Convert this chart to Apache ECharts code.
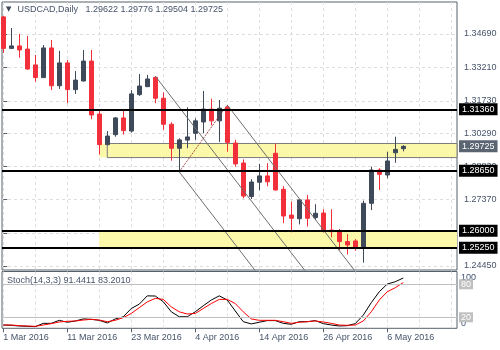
<!DOCTYPE html>
<html>
<head>
<meta charset="utf-8">
<script src="https://cdn.jsdelivr.net/npm/echarts@6/dist/echarts.min.js"></script>
<style>
html,body{margin:0;padding:0;background:#fff}
#chart{width:500px;height:350px}
</style>
</head>
<body>
<div id="chart"></div>
<script>
// USDCAD daily candles, 1 Mar – 10 May 2016
const symbolName = 'USDCAD,Daily';
const dates = [
  '1 Mar 2016','2 Mar 2016','3 Mar 2016','4 Mar 2016','7 Mar 2016','8 Mar 2016','9 Mar 2016','10 Mar 2016',
  '11 Mar 2016','14 Mar 2016','15 Mar 2016','16 Mar 2016','17 Mar 2016','18 Mar 2016','21 Mar 2016','22 Mar 2016',
  '23 Mar 2016','24 Mar 2016','25 Mar 2016','28 Mar 2016','29 Mar 2016','30 Mar 2016','31 Mar 2016','1 Apr 2016',
  '4 Apr 2016','5 Apr 2016','6 Apr 2016','7 Apr 2016','8 Apr 2016','11 Apr 2016','12 Apr 2016','13 Apr 2016',
  '14 Apr 2016','15 Apr 2016','18 Apr 2016','19 Apr 2016','20 Apr 2016','21 Apr 2016','22 Apr 2016','25 Apr 2016',
  '26 Apr 2016','27 Apr 2016','28 Apr 2016','29 Apr 2016','2 May 2016','3 May 2016','4 May 2016','5 May 2016',
  '6 May 2016','9 May 2016','10 May 2016'
];
const opens = [
  1.3544,1.3405,1.3416,1.3402,1.3332,1.3276,1.3407,1.3240,1.3341,1.3223,1.3261,1.3349,1.3115,1.2980,1.3024,1.3098,
  1.3040,1.3201,1.3236,1.3277,1.3185,1.3070,1.2964,1.3000,1.3030,1.3080,1.3137,1.3085,1.3145,1.2987,1.2899,1.2751,
  1.2814,1.2842,1.2942,1.2783,1.2669,1.2653,1.2736,1.2658,1.2678,1.2603,1.2597,1.2552,1.2555,1.2522,1.2721,1.2868,
  1.2846,1.2944,1.29622
];
const closes = [
  1.3405,1.3416,1.3398,1.3314,1.3276,1.3407,1.3240,1.3341,1.3223,1.3265,1.3349,1.3111,1.2980,1.3018,1.3098,1.3042,
  1.3204,1.3239,1.3270,1.3185,1.3070,1.2964,1.3001,1.3014,1.3085,1.3137,1.3085,1.3141,1.2990,1.2895,1.2753,1.2815,
  1.2842,1.2816,1.2780,1.2665,1.2655,1.2736,1.2655,1.2677,1.2600,1.2596,1.2552,1.2537,1.2522,1.2721,1.2868,1.2849,
  1.2908,1.2959,1.29725
];
const lows = [
  1.3385,1.3402,1.3364,1.3310,1.3258,1.3274,1.3221,1.3226,1.3163,1.3204,1.3259,1.3092,1.2936,1.2978,1.3015,1.3024,
  1.3033,1.3195,1.3235,1.3163,1.3045,1.2909,1.2860,1.2964,1.3001,1.3030,1.3065,1.2992,1.2949,1.2883,1.2743,1.2740,
  1.2778,1.2796,1.2777,1.2633,1.2593,1.2628,1.2618,1.2647,1.2592,1.2571,1.2514,1.2495,1.2512,1.2459,1.2691,1.2780,
  1.2831,1.2900,1.29504
];
const highs = [
  1.3548,1.3495,1.3469,1.3460,1.3376,1.3420,1.3442,1.3394,1.3354,1.3305,1.3398,1.3398,1.3133,1.3040,1.3102,1.3137,
  1.3221,1.3292,1.3288,1.3283,1.3211,1.3079,1.3008,1.3145,1.3096,1.3217,1.3183,1.3177,1.3155,1.3001,1.2915,1.2828,
  1.2895,1.2898,1.2985,1.2797,1.2728,1.2740,1.2758,1.2717,1.2695,1.2695,1.2608,1.2585,1.2563,1.2733,1.2883,1.2876,
  1.2949,1.3015,1.29776
];

// Stochastic (14,3,3): main %K and signal %D
const stochK = [
  6.0,5.4,4.2,3.6,3.0,9.0,9.0,14.5,11.0,13.3,17.0,16.3,14.5,9.7,17.0,21.0,36.0,44.0,59.0,58.7,48.4,30.0,21.0,21.0,
  30.0,41.0,51.4,59.0,51.4,31.5,12.0,8.0,11.0,14.0,14.0,9.0,7.3,12.0,12.0,14.0,8.5,6.0,4.2,4.8,8.5,24.0,46.6,66.5,
  80.5,84.7,91.4411
];
const stochD = [
  6.0,6.0,4.8,4.2,3.6,6.0,8.5,11.5,12.7,13.3,15.0,16.3,15.0,12.0,14.5,19.4,27.0,37.5,48.0,54.4,52.6,39.0,30.0,26.0,
  27.0,36.0,45.0,52.6,52.6,45.0,30.0,17.0,14.5,14.5,14.5,12.0,9.0,11.0,12.0,13.3,11.5,9.0,6.0,5.4,6.0,13.3,30.0,51.4,
  66.5,73.8,83.2010
];
const stochLevels = [80, 20];
const stochTop = [100];
const stochBottom = [0];

// price scale labels and date labels
const priceTicks = [1.2445, 1.2591, 1.2737, 1.2883, 1.3029, 1.3173, 1.3321, 1.3469];
const dateTicks = [0, 8, 16, 24, 32, 40, 48];
const gridSteps = [0, 4, 8, 12, 16, 20, 24, 28, 32, 36, 40, 44, 48, 52, 56];

// support / resistance levels and zones
const levels = [1.3136, 1.2865, 1.2600, 1.2525];
const zoneUpper = [1.2985, 1.2923];
const zoneLower = [1.2600, 1.2525];
const zoneStart = 12;
const boxStart = 13;
const zoneNote = [32.2, 1.3027];

// descending channel and the rising link (bar index, price)
const channelA = [[19, 1.3283], [44, 1.2135]];
const channelB = [[22, 1.2860], [42, 1.1942]];
const channelC = [[28, 1.3155], [48, 1.2237]];
const riseLink = [[22, 1.2860], [28, 1.3155]];

const FONT = '"Liberation Sans", Arial, sans-serif';
const TXT = '#46546a';
const FRAME = '#56606b';
const GRIDLINE = '#dedede';
const BULL = '#3e4a59';
const BEAR = '#f2303b';
const ZONE = '#fbf9a9';

const X_MIN = -0.16, X_MAX = 56.715;
const Y_MIN = 1.24266, Y_MAX = 1.36098;
const S_MAX = 103.3;
const last = closes.length - 1;

const candles = dates.map((d, i) => [i, opens[i], closes[i], lows[i], highs[i]]);

const tag = (bg) => ({
  show: true, position: 'end', distance: 2,
  backgroundColor: bg, color: '#fff', padding: [2, 3, 1, 3],
  fontSize: 9, fontFamily: FONT
});

const trend = (pts, color, type) => ({
  type: 'line', xAxisIndex: 0, yAxisIndex: 0, data: pts,
  symbol: 'none', silent: true, clip: true, z: 3,
  lineStyle: { color: color, width: 1, type: type }
});

const stochAxis = (values, vAlign) => ({
  gridIndex: 1, type: 'value', position: 'right', min: 0, max: S_MAX,
  axisLine: { show: false },
  axisTick: { show: false, customValues: values },
  axisLabel: {
    customValues: values, margin: 4, verticalAlign: vAlign,
    color: '#3d4f73', fontSize: 9, fontFamily: FONT
  },
  splitLine: { show: false }
});

const chart = echarts.init(document.getElementById('chart'), null, { renderer: 'canvas' });
chart.setOption({
  animation: false,
  backgroundColor: '#fff',
  title: [
    {
      text: '{tri|▼}' + symbolName + '   ' +
        [opens[last], highs[last], lows[last], closes[last]].map(v => v.toFixed(5)).join(' '),
      left: 6, top: 5, padding: 0,
      textStyle: {
        fontSize: 9, fontWeight: 'normal', color: TXT, fontFamily: FONT,
        rich: { tri: { fontSize: 7, color: '#3b4656', padding: [0, 6, 0, 0], fontFamily: 'DejaVu Sans' } }
      }
    },
    {
      text: 'Stoch(14,3,3) ' + stochK[last].toFixed(4) + ' ' + stochD[last].toFixed(4),
      left: 7, top: 276, padding: 0,
      textStyle: { fontSize: 9, fontWeight: 'normal', color: TXT, fontFamily: FONT }
    }
  ],
  grid: [
    { left: 2, top: 2, width: 455, height: 268, show: true, borderColor: FRAME, borderWidth: 1 },
    { left: 2, top: 271.5, width: 455, height: 56.8, show: true, borderColor: FRAME, borderWidth: 1 }
  ],
  xAxis: [
    {
      gridIndex: 0, type: 'value', min: X_MIN, max: X_MAX,
      axisLine: { show: false }, axisLabel: { show: false },
      axisTick: { show: false, customValues: gridSteps },
      splitLine: { show: true, lineStyle: { color: GRIDLINE, type: [3, 3] } }
    },
    {
      gridIndex: 1, type: 'value', min: X_MIN, max: X_MAX,
      axisLine: { show: false }, axisLabel: { show: false },
      axisTick: { show: false, customValues: gridSteps },
      splitLine: { show: true, lineStyle: { color: GRIDLINE, type: [3, 3] } }
    },
    {
      gridIndex: 1, type: 'value', min: X_MIN, max: X_MAX, position: 'bottom',
      axisLine: { show: false },
      axisTick: { show: true, length: 4, customValues: dateTicks, lineStyle: { color: FRAME } },
      axisLabel: {
        customValues: dateTicks, formatter: v => dates[Math.round(v)],
        align: 'left', margin: 5, color: TXT, fontSize: 9, fontFamily: FONT
      },
      splitLine: { show: false }
    }
  ],
  yAxis: [
    {
      gridIndex: 0, type: 'value', position: 'right', min: Y_MIN, max: Y_MAX,
      axisLine: { show: false },
      axisTick: { show: true, length: 4, customValues: priceTicks, lineStyle: { color: FRAME } },
      axisLabel: {
        customValues: priceTicks, formatter: v => v.toFixed(5),
        margin: 7, color: TXT, fontSize: 9, fontFamily: FONT
      },
      splitLine: { show: true, lineStyle: { color: GRIDLINE, type: [3, 3] } }
    },
    stochAxis(stochTop, 'top'),
    stochAxis(stochBottom, 'bottom')
  ],
  series: [
    {
      type: 'candlestick', name: symbolName, xAxisIndex: 0, yAxisIndex: 0,
      dimensions: ['bar', 'open', 'close', 'low', 'high'],
      encode: { x: 'bar', y: ['open', 'close', 'low', 'high'] },
      data: candles, barWidth: 4, clip: true,
      itemStyle: { color: BULL, color0: BEAR, borderColor: BULL, borderColor0: BEAR, borderWidth: 1 },
      markArea: {
        silent: true,
        data: [
          [{ coord: [zoneStart, zoneUpper[0]], itemStyle: { color: ZONE } }, { coord: [X_MAX, zoneUpper[1]] }],
          [{ coord: [boxStart, zoneUpper[0]], itemStyle: { color: 'rgba(0,0,0,0)', borderColor: '#7a7a7a', borderWidth: 1 } },
           { coord: [X_MAX + 2, zoneUpper[1]] }],
          [{ coord: [zoneStart, zoneLower[0]], itemStyle: { color: ZONE } }, { coord: [X_MAX, zoneLower[1]] }]
        ]
      },
      markLine: {
        silent: true, symbol: ['none', 'none'], precision: 5,
        data: levels.map(v => ({
          yAxis: v,
          lineStyle: { color: '#000', width: 2, type: 'solid' },
          label: Object.assign(tag('#000'), { formatter: v.toFixed(5) })
        })).concat([{
          yAxis: closes[last],
          lineStyle: { color: 'rgba(0,0,0,0)', width: 1, type: 'solid' },
          label: Object.assign(tag('#5b6571'), { formatter: closes[last].toFixed(5) })
        }])
      },
      markPoint: {
        silent: true,
        data: [{
          coord: zoneNote, symbol: 'rect', symbolSize: 1, itemStyle: { opacity: 0 },
          label: {
            show: true, position: 'right', distance: 0,
            formatter: zoneUpper[0].toFixed(4) + ' - ' + zoneUpper[1].toFixed(4),
            color: '#000', fontSize: 11, fontFamily: FONT
          }
        }]
      }
    },
    trend(channelA, '#6e6e6e', 'solid'),
    trend(channelB, '#6e6e6e', 'solid'),
    trend(channelC, '#6e6e6e', 'solid'),
    trend(riseLink, '#8b1a1a', 'dotted'),
    {
      type: 'line', name: 'Main', xAxisIndex: 1, yAxisIndex: 1,
      data: stochK.map((v, i) => [i, v]), symbol: 'none', silent: true,
      lineStyle: { color: '#000', width: 1 },
      markLine: {
        silent: true, symbol: ['none', 'none'], precision: 2,
        data: stochLevels.map(v => ({
          yAxis: v,
          lineStyle: { color: '#c0c0c0', width: 1, type: 'solid' },
          label: Object.assign(tag('#c0c0c0'), { formatter: String(v), padding: [1, 2, 0, 2] })
        }))
      }
    },
    {
      type: 'line', name: 'Signal', xAxisIndex: 1, yAxisIndex: 1,
      data: stochD.map((v, i) => [i, v]), symbol: 'none', silent: true,
      lineStyle: { color: '#ff0000', width: 1 }
    }
  ]
});
</script>
</body>
</html>
